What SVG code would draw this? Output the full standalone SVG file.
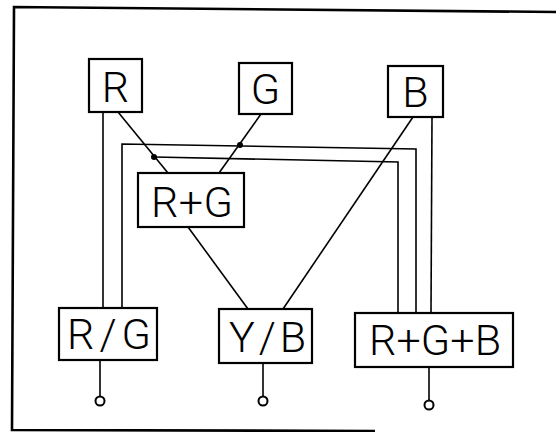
<svg xmlns="http://www.w3.org/2000/svg" width="556" height="432" viewBox="0 0 556 432">
  <style>
    .box { fill: #fff; stroke: #000; stroke-width: 2.2; }
    .lbl { font-family: Roboto, "Liberation Sans", sans-serif; font-weight: 300; font-size: 43px; fill: #000; text-anchor: middle; }
    .wire { fill: none; stroke: #000; stroke-width: 1.6; }
    .frame { fill: none; stroke: #000; stroke-width: 2.6; }
    .term { fill: #fff; stroke: #000; stroke-width: 2; }
  </style>

  <!-- outer frame -->
  <path class="frame" d="M556,12 L14,7 L12,430 L375,431"/>

  <!-- wiring -->
  <g id="connectors">
    <line class="wire" x1="103" y1="112" x2="103" y2="308"/>
    <polyline class="wire" points="122,308 122,144 416,149 416,313"/>
    <polyline class="wire" points="154,157 398,162 398,313"/>
    <line class="wire" x1="118" y1="112" x2="168" y2="173"/>
    <line class="wire" x1="261" y1="114" x2="219" y2="173"/>
    <line class="wire" x1="413" y1="117" x2="283" y2="309"/>
    <line class="wire" x1="432" y1="117" x2="431" y2="313"/>
    <line class="wire" x1="188" y1="227" x2="248" y2="309"/>
    <circle cx="154" cy="157" r="3"/>
    <circle cx="240" cy="145" r="3"/>
    <!-- output terminals -->
    <line class="wire" x1="100" y1="360" x2="100" y2="396"/>
    <line class="wire" x1="263" y1="363" x2="263" y2="396"/>
    <line class="wire" x1="429" y1="367" x2="429" y2="400"/>
    <circle class="term" cx="100" cy="401" r="4.5"/>
    <circle class="term" cx="263" cy="401" r="4.5"/>
    <circle class="term" cx="429" cy="405" r="4.5"/>
  </g>

  <g id="R">
    <rect class="box" x="89" y="59" width="53" height="53"/>
    <text class="lbl" x="115.5" y="102">R</text>
  </g>
  <g id="G">
    <rect class="box" x="239" y="63" width="53" height="51"/>
    <text class="lbl" x="265.5" y="104">G</text>
  </g>
  <g id="B">
    <rect class="box" x="388" y="66" width="55" height="51"/>
    <text class="lbl" x="415.5" y="107">B</text>
  </g>
  <g id="RplusG">
    <rect class="box" x="138" y="173" width="106" height="54"/>
    <text class="lbl" x="192" y="217" textLength="82" lengthAdjust="spacing">R+G</text>
  </g>
  <g id="RG">
    <rect class="box" x="59" y="308" width="98" height="52"/>
    <text class="lbl" x="109" y="349" textLength="84" lengthAdjust="spacing">R/G</text>
  </g>
  <g id="YB">
    <rect class="box" x="219" y="309" width="93" height="54"/>
    <text class="lbl" x="267.5" y="352" textLength="77" lengthAdjust="spacing">Y/B</text>
  </g>
  <g id="RGB">
    <rect class="box" x="355" y="313" width="158" height="54"/>
    <text class="lbl" x="435" y="355" textLength="132" lengthAdjust="spacing">R+G+B</text>
  </g>
</svg>
